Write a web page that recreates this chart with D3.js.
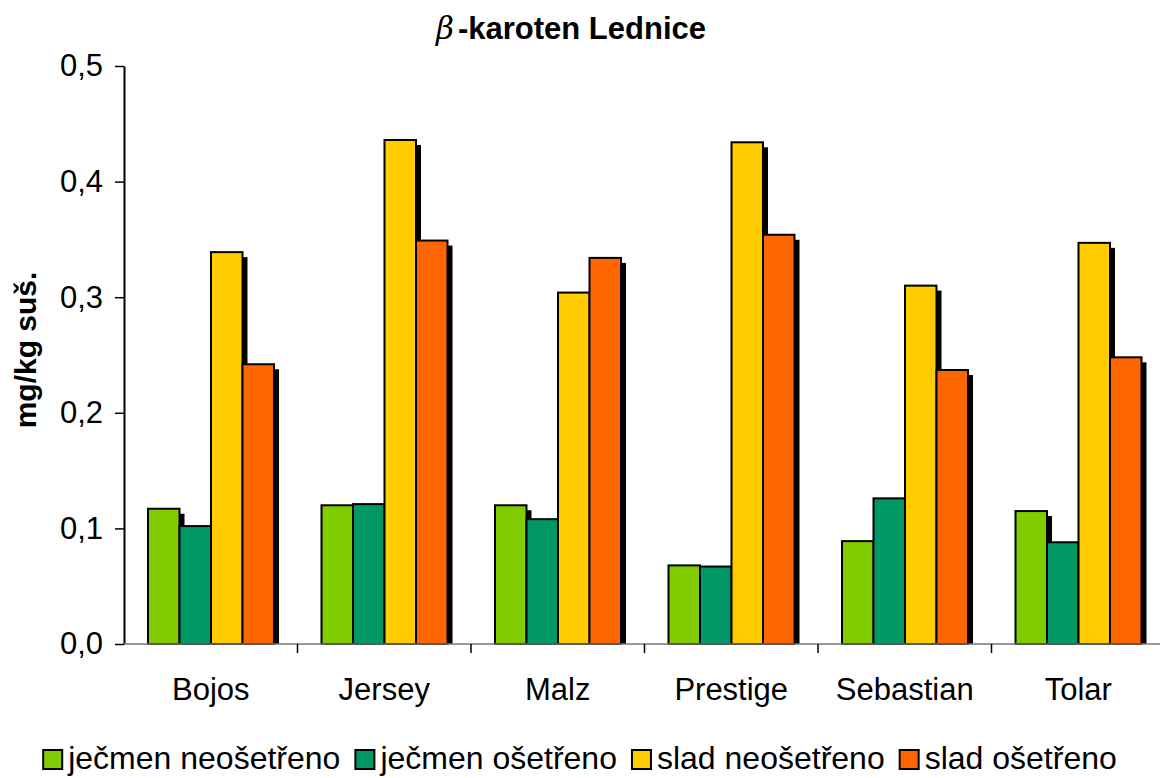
<!DOCTYPE html>
<html>
<head>
<meta charset="UTF-8">
<script src="https://d3js.org/d3.v7.min.js"></script>
<style>
  body { margin: 0; background: #fff; }
  svg { display: block; font-family: Arial, "Liberation Sans", sans-serif; }
</style>
</head>
<body>
<div id="chart"></div>
<script>
// data
const categories = ["Bojos", "Jersey", "Malz", "Prestige", "Sebastian", "Tolar"];
const seriesNames = ["ječmen neošetřeno", "ječmen ošetřeno", "slad neošetřeno", "slad ošetřeno"];
const jecmenNeo = [0.117, 0.120, 0.120, 0.068, 0.089, 0.115];
const jecmenOse = [0.102, 0.121, 0.108, 0.067, 0.126, 0.088];
const sladNeo   = [0.339, 0.436, 0.304, 0.434, 0.310, 0.347];
const sladOse   = [0.242, 0.349, 0.334, 0.354, 0.237, 0.248];
const yTicks = [0, 0.1, 0.2, 0.3, 0.4, 0.5];
const colors = ["#80cc00", "#009966", "#ffcc00", "#ff6600"];

const width = 1160, height = 778;
const plot = { left: 124, right: 1165, top: 66, bottom: 644 };
const shadow = 5;

const svg = d3.select("#chart").append("svg").attr("width", width).attr("height", height);

const x = d3.scaleBand().domain(categories).range([plot.left, plot.right]).padding(0);
const xs = d3.scaleBand().domain(seriesNames).range([24, 150]).padding(0);
const y = d3.scaleLinear().domain([0, 0.5]).range([plot.bottom, plot.top]);

const values = [jecmenNeo, jecmenOse, sladNeo, sladOse];
const rows = [];
categories.forEach((c, i) => {
  seriesNames.forEach((s, j) => rows.push({ cat: c, ser: s, v: values[j][i], color: colors[j] }));
});

// shadows first
svg.append("g").selectAll("rect").data(rows).join("rect")
  .attr("x", d => x(d.cat) + xs(d.ser) + shadow)
  .attr("y", d => y(d.v) + shadow)
  .attr("width", xs.bandwidth())
  .attr("height", d => Math.max(0, y(0) - y(d.v) - shadow))
  .attr("fill", "#000");

svg.append("g").selectAll("rect").data(rows).join("rect")
  .attr("x", d => x(d.cat) + xs(d.ser))
  .attr("y", d => y(d.v))
  .attr("width", xs.bandwidth())
  .attr("height", d => y(0) - y(d.v))
  .attr("fill", d => d.color)
  .attr("stroke", "#000")
  .attr("stroke-width", 2);

// y axis
const fmt = v => d3.format(".1f")(v).replace(".", ",");
const gy = svg.append("g").attr("transform", `translate(${plot.left},0)`)
  .call(d3.axisLeft(y).tickValues(yTicks).tickFormat(fmt).tickSize(9).tickPadding(12).tickSizeOuter(0));
gy.select(".domain").attr("stroke", "#000").attr("stroke-width", 2);
gy.selectAll(".tick line").attr("stroke", "#000").attr("stroke-width", 1.5);
gy.selectAll(".tick text").attr("font-size", 31).attr("fill", "#000")
  .attr("font-family", "Arial, 'Liberation Sans', sans-serif");

// x axis
svg.append("line")
  .attr("x1", plot.left).attr("x2", width)
  .attr("y1", y(0)).attr("y2", y(0))
  .attr("stroke", "#777").attr("stroke-width", 1.5);
svg.append("g").selectAll("line").data(categories.slice(1)).join("line")
  .attr("x1", d => x(d)).attr("x2", d => x(d))
  .attr("y1", y(0)).attr("y2", y(0) + 9)
  .attr("stroke", "#000").attr("stroke-width", 1.5);
svg.append("g").selectAll("text").data(categories).join("text")
  .attr("x", d => x(d) + x.bandwidth() / 2)
  .attr("y", 700)
  .attr("text-anchor", "middle")
  .attr("font-size", 31)
  .text(d => d);

// title
const title = svg.append("text").attr("x", 571).attr("y", 39)
  .attr("text-anchor", "middle").attr("font-size", 31).attr("font-weight", "bold");
title.append("tspan").attr("font-style", "italic").attr("font-family", "'DejaVu Serif', serif").attr("font-weight", "normal").text("β");
title.append("tspan").attr("dx", 4).text("-karoten Lednice");

// y title
svg.append("text")
  .attr("transform", "translate(36,350) rotate(-90)")
  .attr("text-anchor", "middle")
  .attr("font-size", 30).attr("font-weight", "bold")
  .text("mg/kg suš.");

// legend, centred under the chart
const legend = svg.append("g");
const box = 19, boxGap = 6, itemGap = 15;
let lx = 0;
seriesNames.forEach((s, j) => {
  legend.append("rect").attr("x", lx).attr("y", 750).attr("width", box).attr("height", box)
    .attr("fill", colors[j]).attr("stroke", "#000").attr("stroke-width", 2);
  const t = legend.append("text").attr("x", lx + box + boxGap).attr("y", 769)
    .attr("font-size", 32).text(s);
  lx += box + boxGap + t.node().getComputedTextLength() + itemGap;
});
const legendW = lx - itemGap;
legend.attr("transform", `translate(${(width - legendW) / 2},0)`);
</script>
</body>
</html>
